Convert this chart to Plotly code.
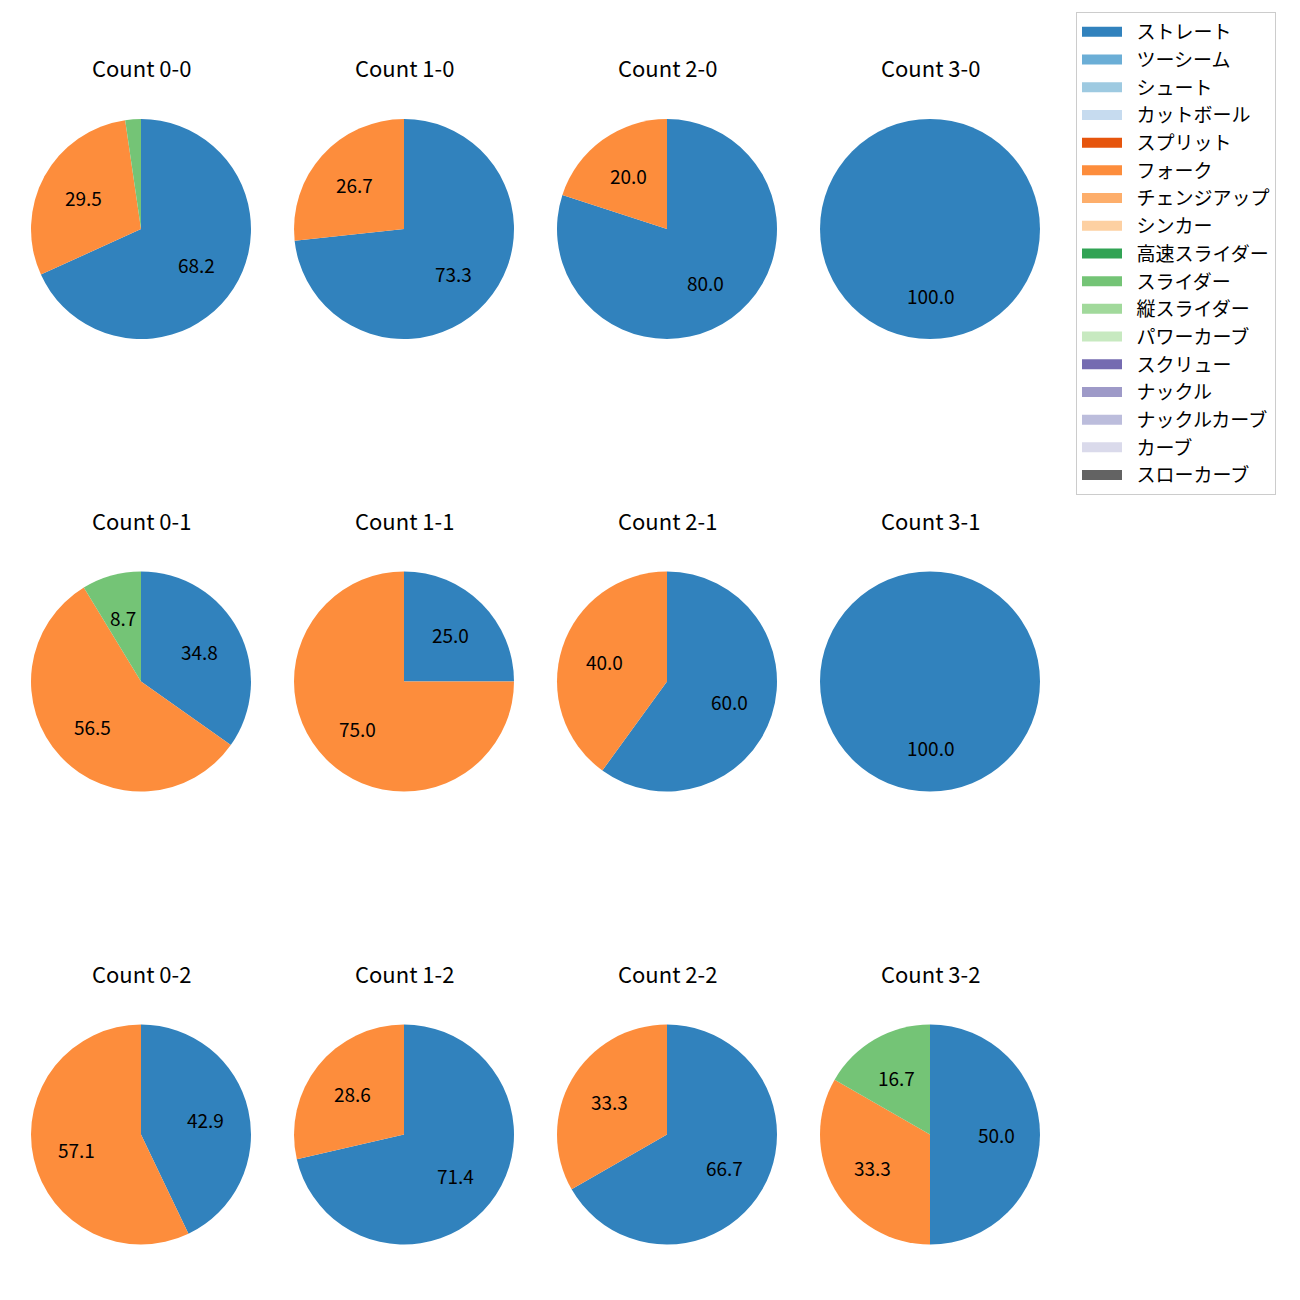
import plotly.graph_objects as go
import math

pitch_types = ["ストレート", "ツーシーム", "シュート", "カットボール", "スプリット", "フォーク",
               "チェンジアップ", "シンカー", "高速スライダー", "スライダー", "縦スライダー",
               "パワーカーブ", "スクリュー", "ナックル", "ナックルカーブ", "カーブ", "スローカーブ"]
colors = ["#3182bd", "#6baed6", "#9ecae1", "#c6dbef", "#e6550d", "#fd8d3c", "#fdae6b", "#fdd0a2",
          "#31a354", "#74c476", "#a1d99b", "#c7e9c0", "#756bb1", "#9e9ac8", "#bcbddc", "#dadaeb",
          "#636363"]

counts = ["0-0", "1-0", "2-0", "3-0",
          "0-1", "1-1", "2-1", "3-1",
          "0-2", "1-2", "2-2", "3-2"]

straight = [68.2, 73.3, 80.0, 100.0, 34.8, 25.0, 60.0, 100.0, 42.9, 71.4, 66.7, 50.0]
fork     = [29.5, 26.7, 20.0, 0.0, 56.5, 75.0, 40.0, 0.0, 57.1, 28.6, 33.3, 33.3]
slider   = [2.3, 0.0, 0.0, 0.0, 8.7, 0.0, 0.0, 0.0, 0.0, 0.0, 0.0, 16.7]

series = {"ストレート": straight, "フォーク": fork, "スライダー": slider}

W = H = 1300
OFF = 8  # page body margin
col_cx = [141 - OFF, 404 - OFF, 667 - OFF, 930 - OFF]
row_cy = [229 - OFF, 681.5 - OFF, 1134.5 - OFF]
R = 110
FONT = "Noto Sans CJK JP"
LABEL_MIN = 5.0

fig = go.Figure()
annotations = []
for i, cnt in enumerate(counts):
    r, c = divmod(i, 4)
    cx, cy = col_cx[c], row_cy[r]
    vals = [series[p][i] if p in series else 0.0 for p in pitch_types]
    fig.add_trace(go.Pie(
        labels=pitch_types, values=vals, sort=False, direction="clockwise", rotation=0,
        marker=dict(colors=colors, line=dict(width=0)),
        textinfo="none", hoverinfo="label+percent",
        domain=dict(x=[(cx - R) / W, (cx + R) / W], y=[1 - (cy + R) / H, 1 - (cy - R) / H]),
        showlegend=False, name=cnt,
    ))
    annotations.append(dict(text=f"Count {cnt}", x=cx / W, y=1 - (cy - 162) / H,
                            xref="paper", yref="paper", showarrow=False,
                            xanchor="center", yanchor="middle",
                            font=dict(size=22, color="black", family=FONT)))
    total = sum(vals)
    theta = 90.0
    for v in vals:
        if v <= 0:
            continue
        span = 360.0 * v / total
        mid = math.radians(theta - span / 2)
        theta -= span
        if v < LABEL_MIN:
            continue
        px = cx + 0.6 * R * math.cos(mid)
        py = cy - 0.6 * R * math.sin(mid)
        annotations.append(dict(text=f"{v:.1f}", x=px / W, y=1 - py / H,
                                xref="paper", yref="paper", showarrow=False,
                                xanchor="center", yanchor="middle",
                                font=dict(size=19, color="black", family=FONT)))

# legend entries (one per pitch type, same colours as the slices)
for name, col in zip(pitch_types, colors):
    fig.add_trace(go.Scatter(x=[None], y=[None], mode="lines", name="\u2002" + name,
                             legendgroup=name, line=dict(color=col, width=13),
                             hoverinfo="skip"))

fig.update_layout(
    width=W, height=H, margin=dict(l=0, r=0, t=0, b=0),
    paper_bgcolor="white", plot_bgcolor="white",
    font=dict(family=FONT, color="black"),
    annotations=annotations,
    xaxis=dict(visible=False), yaxis=dict(visible=False),
    legend=dict(x=(1076 - OFF) / W, y=1 - (12 - OFF) / H, xanchor="left", yanchor="top",
                font=dict(size=19, family=FONT, color="black"),
                bordercolor="#cccccc", borderwidth=1, bgcolor="white",
                traceorder="normal", tracegroupgap=2, itemwidth=40),
)
fig.write_html("out.html")
